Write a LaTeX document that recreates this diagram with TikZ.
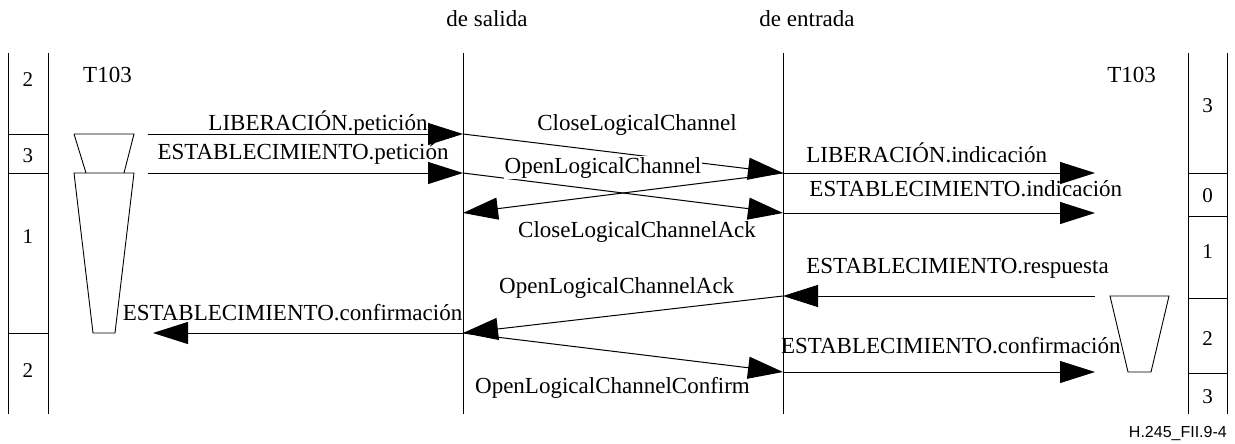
\documentclass[tikz,border=0pt]{standalone}
\usepackage{fontspec}
\setmainfont{Liberation Serif}
\newfontfamily\figfont{Liberation Sans}
\usetikzlibrary{arrows.meta}
\tikzset{
  msg/.style={-{Triangle[length=35pt,width=22pt]}, line width=1pt},
  lbl/.style={font=\fontsize{23}{27}\selectfont, inner sep=0pt, anchor=base},
  wlbl/.style={lbl, fill=white, inner sep=1pt},
  numlbl/.style={font=\fontsize{21}{25}\selectfont, inner sep=0pt, anchor=base},
  lifeline/.style={line width=0.9pt},
  timer/.style={line width=0.9pt},
}

\begin{document}
\begin{tikzpicture}[x=1pt, y=-1pt]
  \useasboundingbox (0,0) rectangle (1235,444);

  % lifelines
  \coordinate (st) at (463,53);   \coordinate (sb) at (463,414);
  \coordinate (et) at (783,53);   \coordinate (eb) at (783,414);
  \draw[lifeline] (st) -- (sb);
  \draw[lifeline] (et) -- (eb);
  \node[lbl] (salida) at (487,27) {de salida};
  \node[lbl] (entrada) at (807,27) {de entrada};

  % left state column
  \draw[lifeline] (8,53) -- (8,414);
  \draw[lifeline] (48,53) -- (48,414);
  \foreach \y in {134,173,333} \draw[lifeline] (8,\y) -- (48,\y);
  \node[numlbl] (l2a) at (28,87) {2};
  \node[numlbl] (l3) at (28,162) {3};
  \node[numlbl] (l1) at (28,243) {1};
  \node[numlbl] (l2b) at (28,377) {2};

  % right state column
  \draw[lifeline] (1188,53) -- (1188,414);
  \draw[lifeline] (1227,53) -- (1227,414);
  \foreach \y in {173,216,298,373} \draw[lifeline] (1188,\y) -- (1227,\y);
  \node[numlbl] (r3a) at (1207.5,112) {3};
  \node[numlbl] (r0) at (1207.5,202) {0};
  \node[numlbl] (r1) at (1207.5,258) {1};
  \node[numlbl] (r2) at (1207.5,345) {2};
  \node[numlbl] (r3b) at (1207.5,403) {3};

  % timers
  \node[lbl] (tl) at (107.5,83) {T103};
  \node[lbl] (tr) at (1131.7,83) {T103};
  \draw[timer] (74,134) -- (134,134) -- (124,173) (86,173) -- (74,134);
  \draw[timer] (74,173) -- (134,173) -- (115,333) -- (93,333) -- cycle;
  \draw[timer] (1110,296) -- (1169,296) -- (1151,372) -- (1128,372) -- cycle;

  % message points
  \coordinate (ul1) at (148,134);  \coordinate (ul2) at (148,173);
  \coordinate (ul3) at (153,333);
  \coordinate (s1) at (463,134);   \coordinate (s2) at (463,173);
  \coordinate (s3) at (463,213);   \coordinate (s4) at (463,333);
  \coordinate (e1) at (783,173);   \coordinate (e2) at (783,213);
  \coordinate (e3) at (783,296);   \coordinate (e4) at (783,372);
  \coordinate (ur1) at (1095,173); \coordinate (ur2) at (1095,213);
  \coordinate (ur3) at (1095,296); \coordinate (ur4) at (1095,372);

  \draw[msg] (ul1) -- (s1);
  \draw[msg] (ul2) -- (s2);
  \draw[msg] (s1) -- (e1);
  \draw[msg] (s2) -- (e2);
  \draw[msg] (e1) -- (s3);
  \draw[msg] (e1) -- (ur1);
  \draw[msg] (e2) -- (ur2);
  \draw[msg] (ur3) -- (e3);
  \draw[msg] (e3) -- (s4);
  \draw[msg] (s4) -- (ul3);
  \draw[msg] (s4) -- (e4);
  \draw[msg] (e4) -- (ur4);

  \node[lbl] (lpet) at (318,130.5) {LIBERACIÓN.petición};
  \node[lbl] (epet) at (303,159) {ESTABLECIMIENTO.petición};
  \node[lbl] (clc) at (637,130) {CloseLogicalChannel};
  \node[wlbl] (olc) at (603,173) {OpenLogicalChannel};
  \node[lbl] (clca) at (637,237) {CloseLogicalChannelAck};
  \node[lbl] (lind) at (926.7,162.7) {LIBERACIÓN.indicación};
  \node[lbl] (eind) at (965.8,196.7) {ESTABLECIMIENTO.indicación};
  \node[lbl] (eres) at (957.5,273) {ESTABLECIMIENTO.respuesta};
  \node[lbl] (olca) at (616.7,293) {OpenLogicalChannelAck};
  \node[lbl] (econl) at (292.5,320.7) {ESTABLECIMIENTO.confirmación};
  \node[lbl] (olcc) at (612.5,393) {OpenLogicalChannelConfirm};
  \node[lbl] (econr) at (950.8,353) {ESTABLECIMIENTO.confirmación};

  \node[font=\figfont\fontsize{16}{19}\selectfont, inner sep=0pt, anchor=base east] (fig) at (1227,437) {H.245\_FII.9-4};
\end{tikzpicture}
\end{document}
